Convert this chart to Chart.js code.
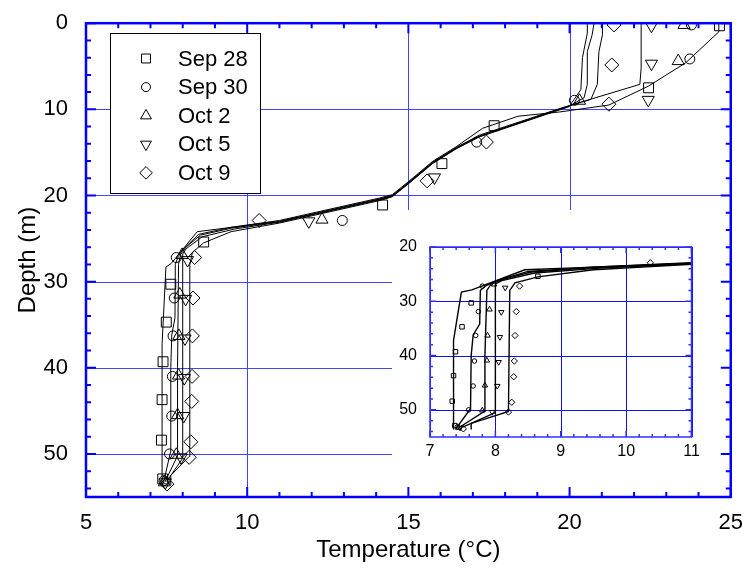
<!DOCTYPE html>
<html>
<head>
<meta charset="utf-8">
<title>Temperature profiles</title>
<script src="https://cdn.jsdelivr.net/npm/chart.js@4.4.1/dist/chart.umd.min.js"></script>
<style>
  html, body { margin: 0; padding: 0; background: #fff; }
  #wrap { position: relative; width: 748px; height: 579px; }
  #mainChart { position: absolute; left: 0; top: 0; }
  #insetChart { position: absolute; left: 392px; top: 210px; }
</style>
</head>
<body>
<div id="wrap">
  <canvas id="mainChart" width="748" height="579"></canvas>
  <canvas id="insetChart" width="333" height="285"></canvas>
</div>
<script>
const FONT = "'Liberation Sans', Arial, sans-serif";

const seriesNames = ['Sep 28', 'Sep 30', 'Oct 2', 'Oct 5', 'Oct 9'];
const markerStyles = ['rect', 'circle', 'triangle', 'triangle', 'rectRot'];
const markerRotation = [0, 0, 0, 180, 0];
const markerRadius = [7, 5, 7, 7, 7];

// measured profiles, [temperature °C, depth m]
const sep28Obs = [[24.65, 0.3], [22.45, 7.5], [17.66, 11.9], [16.04, 16.3], [14.2, 21.1], [8.65, 25.4],
  [7.63, 30.3], [7.49, 34.7], [7.39, 39.3], [7.36, 43.7], [7.34, 48.4], [7.38, 52.9]];
const sep30Obs = [[23.78, 0.2], [23.73, 4.15], [20.15, 8.95], [17.12, 13.8], [12.95, 22.9], [7.80, 27.2],
  [7.74, 31.9], [7.70, 36.3], [7.68, 41.0], [7.66, 45.6], [7.59, 50.0], [7.42, 53.1]];
const oct2Obs = [[23.55, 0.2], [23.37, 4.4], [20.31, 9.0], [12.32, 22.8], [7.98, 26.9],
  [7.91, 31.5], [7.88, 36.3], [7.87, 40.9], [7.84, 45.5], [7.80, 50.1], [7.43, 53.3]];
const oct5Obs = [[22.54, 0.3], [22.54, 4.7], [22.44, 8.9], [15.81, 17.9], [11.91, 23.0], [8.15, 27.5],
  [8.09, 32.0], [8.07, 36.6], [8.05, 41.2], [8.03, 45.6], [7.95, 50.4], [7.46, 53.3]];
const oct9Obs = [[21.38, 0.2], [21.31, 4.85], [21.22, 9.4], [17.42, 13.8], [15.58, 18.3], [10.37, 22.9],
  [8.37, 27.2], [8.32, 31.9], [8.30, 36.3], [8.29, 41.0], [8.28, 43.9], [8.25, 48.6], [8.20, 50.4], [7.51, 53.5]];

// model profiles
const sep28Fit = [[7.36, 53.6], [7.36, 37.2], [7.48, 28.3], [7.64, 27.9], [8.45, 24.2], [9.3, 23.8], [11, 22.9],
  [14.1, 20.3], [14.5, 19.9], [15.0, 18.4], [15.75, 16.05], [16.5, 14.3], [17.3, 12.2], [18.4, 10.8],
  [19.7, 10.3], [21.22, 9.5], [22.45, 7.3], [23.6, 4.6], [24.63, 1.0], [24.63, 0]];
const sep30Fit = [[7.40, 53.4], [7.62, 49.8], [7.63, 40.0], [7.66, 36.2], [7.76, 34.2], [7.77, 28.0], [7.86, 27.1],
  [8.0, 26.3], [8.5, 24.5], [9.5, 23.7], [11, 23.0], [14.1, 20.4], [14.5, 20.0], [15.0, 18.5], [15.75, 16.15],
  [16.5, 14.4], [17.2, 13.0], [19.7, 9.9], [22.18, 7.1], [22.22, 5.2], [22.22, 0]];
const oct2Fit = [[7.44, 53.3], [7.83, 50.3], [7.84, 40.0], [7.87, 28.0], [7.93, 26.9], [8.1, 26.0], [8.55, 24.6],
  [9.5, 23.8], [11, 23.05], [14.1, 20.45], [14.5, 20.05], [15.0, 18.55], [15.75, 16.2], [16.5, 14.45],
  [17.2, 13.1], [19.98, 9.6], [20.66, 8.85], [20.86, 7.1], [20.91, 3.3], [21.02, 1.35], [21.02, 0]];
const oct5Fit = [[7.50, 53.2], [8.0, 50.5], [8.0, 26.8], [8.1, 26.2], [8.6, 24.8], [9.6, 23.9], [11, 23.1],
  [14.1, 20.5], [14.5, 20.1], [15.0, 18.6], [15.75, 16.25], [16.5, 14.5], [17.2, 13.15], [19.98, 9.65],
  [20.45, 8.65], [20.55, 7.1], [20.55, 3.3], [20.7, 1.35], [20.76, 0]];
const oct9Fit = [[7.63, 53.6], [7.63, 52.5], [8.2, 50.3], [8.22, 28.0], [8.3, 26.6], [8.65, 25.5], [9.5, 24.2],
  [11, 23.2], [14.1, 20.6], [14.5, 20.15], [15.0, 18.65], [15.75, 16.3], [16.5, 14.55], [17.2, 13.2],
  [19.98, 9.7], [20.14, 8.85], [20.35, 7.7], [20.4, 4.0], [20.55, 1.15], [20.55, 0]];

const observed = [sep28Obs, sep30Obs, oct2Obs, oct5Obs, oct9Obs];
const fitted = [sep28Fit, sep30Fit, oct2Fit, oct5Fit, oct9Fit];

const tempTicks = [5, 10, 15, 20, 25];
const depthTicks = [0, 10, 20, 30, 40, 50];
const insetTempTicks = [7, 8, 9, 10, 11];
const insetDepthTicks = [20, 30, 40, 50];

function toXY(pts) {
    return pts.map(p => ({ x: p[0], y: p[1] }));
}

function buildDatasets(sizeScale, lineWidth) {
    const sets = [];
    fitted.forEach((pts, i) => {
        sets.push({
            label: seriesNames[i] + ' model',
            data: toXY(pts),
            showLine: true,
            borderColor: '#000',
            borderWidth: lineWidth,
            pointRadius: 0,
            tension: 0,
            order: 2
        });
    });
    observed.forEach((pts, i) => {
        sets.push({
            label: seriesNames[i],
            data: toXY(pts),
            showLine: false,
            pointStyle: markerStyles[i],
            pointRotation: markerRotation[i],
            pointRadius: markerRadius[i] * sizeScale,
            pointBorderColor: '#000',
            pointBackgroundColor: 'rgba(0,0,0,0)',
            pointBorderWidth: 1,
            order: 1
        });
    });
    return sets;
}

// grid lines, blanked box, then frame + inward tick marks on all four sides
const frameTicks = {
    id: 'frameTicks',
    beforeDatasetsDraw(chart, args, opts) {
        const { ctx, chartArea: a, scales: { x, y } } = chart;
        ctx.save();
        ctx.strokeStyle = opts.gridColor;
        ctx.lineWidth = 1;
        ctx.beginPath();
        x.ticks.forEach(t => {
            const px = Math.round(x.getPixelForValue(t.value)) + 0.5;
            ctx.moveTo(px, a.top); ctx.lineTo(px, a.bottom);
        });
        y.ticks.forEach(t => {
            const py = Math.round(y.getPixelForValue(t.value)) + 0.5;
            ctx.moveTo(a.left, py); ctx.lineTo(a.right, py);
        });
        ctx.stroke();
        const b = opts.blank;
        if (b) {
            ctx.fillStyle = '#fff';
            ctx.fillRect(b.x, b.y, b.w, b.h);
        }
        ctx.restore();
    },
    afterDatasetsDraw(chart, args, opts) {
        const { ctx, chartArea: a, scales: { x, y } } = chart;
        ctx.save();
        ctx.strokeStyle = opts.color;
        ctx.lineWidth = opts.tickWidth;
        ctx.beginPath();
        const xn = Math.round((x.max - x.min) / opts.xStep);
        for (let k = 0; k <= xn; k++) {
            const v = x.min + k * opts.xStep;
            const major = Math.abs(v / opts.xMajor - Math.round(v / opts.xMajor)) < 1e-6;
            const len = major ? opts.majorLen : opts.minorLen;
            const px = x.getPixelForValue(v);
            ctx.moveTo(px, a.bottom); ctx.lineTo(px, a.bottom - len);
            ctx.moveTo(px, a.top); ctx.lineTo(px, a.top + len);
        }
        const yn = Math.floor((y.max - y.min) / opts.yStep + 1e-6);
        for (let k = 0; k <= yn; k++) {
            const v = y.min + k * opts.yStep;
            const major = Math.abs(v / opts.yMajor - Math.round(v / opts.yMajor)) < 1e-6;
            const len = major ? opts.majorLen : opts.minorLen;
            const py = y.getPixelForValue(v);
            ctx.moveTo(a.left, py); ctx.lineTo(a.left + len, py);
            ctx.moveTo(a.right, py); ctx.lineTo(a.right - len, py);
        }
        ctx.stroke();
        ctx.lineWidth = opts.frameWidth;
        ctx.strokeRect(a.left, a.top, a.right - a.left, a.bottom - a.top);
        ctx.restore();
    }
};

// boxed legend with the marker symbols
const boxLegend = {
    id: 'boxLegend',
    afterDatasetsDraw(chart, args, opts) {
        const ctx = chart.ctx;
        ctx.save();
        ctx.fillStyle = '#fff';
        ctx.fillRect(opts.x, opts.y, opts.w, opts.h);
        ctx.strokeStyle = '#000';
        ctx.lineWidth = 1;
        ctx.strokeRect(opts.x + 0.5, opts.y + 0.5, opts.w, opts.h);
        ctx.font = '22px ' + FONT;
        ctx.textBaseline = 'middle';
        seriesNames.forEach((name, i) => {
            const cy = opts.firstRow + i * opts.rowGap;
            ctx.fillStyle = 'rgba(0,0,0,0)';
            ctx.strokeStyle = '#000';
            ctx.lineWidth = 1;
            Chart.helpers.drawPoint(ctx, {
                pointStyle: markerStyles[i],
                rotation: markerRotation[i],
                radius: markerRadius[i] * 0.9,
                borderWidth: 1
            }, opts.symbolX, cy);
            ctx.fillStyle = '#000';
            ctx.fillText(name, opts.textX, cy + 1);
        });
        ctx.restore();
    }
};

function axisFont(size) {
    return { family: FONT, size: size };
}

new Chart(document.getElementById('mainChart'), {
    type: 'scatter',
    data: { datasets: buildDatasets(1, 1) },
    options: {
        responsive: false,
        animation: false,
        events: [],
        layout: { padding: { top: 20, right: 16, left: 0, bottom: 0 } },
        plugins: {
            legend: { display: false },
            tooltip: { enabled: false },
            frameTicks: {
                color: '#0000ff', gridColor: '#4444ff', tickWidth: 2, frameWidth: 2.5,
                xStep: 1, xMajor: 5, yStep: 2, yMajor: 10,
                minorLen: 5, majorLen: 10,
                blank: { x: 392, y: 210, w: 340, h: 287 }
            },
            boxLegend: { x: 110, y: 33, w: 150, h: 160, symbolX: 146, textX: 178, firstRow: 58.5, rowGap: 28.6 }
        },
        scales: {
            x: {
                type: 'linear', min: 5, max: 25,
                afterBuildTicks: s => { s.ticks = tempTicks.map(v => ({ value: v })); },
                afterFit: s => { s.height = 82; },
                grid: { display: false },
                border: { display: false },
                ticks: { color: '#000', font: axisFont(22), padding: 5, maxRotation: 0 },
                title: { display: true, text: 'Temperature (°C)', color: '#000', font: axisFont(24), padding: { top: 0, bottom: 14 } }
            },
            y: {
                type: 'linear', min: 0, max: 55, reverse: true,
                afterBuildTicks: s => { s.ticks = depthTicks.map(v => ({ value: v })); },
                afterFit: s => { s.width = 86; },
                grid: { display: false },
                border: { display: false },
                ticks: { color: '#000', font: axisFont(22), padding: 10 },
                title: { display: true, text: 'Depth (m)', color: '#000', font: axisFont(24), padding: { top: 14, bottom: 0 } }
            }
        }
    },
    plugins: [frameTicks, boxLegend]
});

// close-up of the deep layer
new Chart(document.getElementById('insetChart'), {
    type: 'scatter',
    data: { datasets: buildDatasets(0.45, 1.4) },
    options: {
        responsive: false,
        animation: false,
        events: [],
        layout: { padding: { top: 37, right: 33.5, left: 0, bottom: 0 } },
        plugins: {
            legend: { display: false },
            tooltip: { enabled: false },
            frameTicks: {
                color: '#3030ff', gridColor: '#1010ee', tickWidth: 1.5, frameWidth: 1.5,
                xStep: 0.2, xMajor: 1, yStep: 2, yMajor: 10,
                minorLen: 3, majorLen: 6
            }
        },
        scales: {
            x: {
                type: 'linear', min: 7, max: 11,
                afterBuildTicks: s => { s.ticks = insetTempTicks.map(v => ({ value: v })); },
                afterFit: s => { s.height = 58; },
                grid: { display: false },
                border: { display: false },
                ticks: { color: '#000', font: axisFont(16), padding: -3, maxRotation: 0 }
            },
            y: {
                type: 'linear', min: 20, max: 55, reverse: true,
                afterBuildTicks: s => { s.ticks = insetDepthTicks.map(v => ({ value: v })); },
                afterFit: s => { s.width = 38; },
                grid: { display: false },
                border: { display: false },
                ticks: { color: '#000', font: axisFont(16), padding: 5 }
            }
        }
    },
    plugins: [frameTicks]
});
</script>
</body>
</html>
